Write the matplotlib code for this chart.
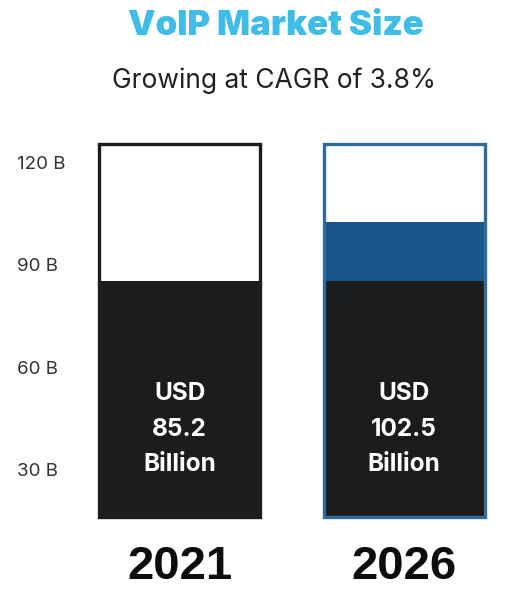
import matplotlib.pyplot as plt

plt.rcParams["font.family"] = ["Inter", "DejaVu Sans"]

# data
years = ["2021", "2026"]
market_size = [85.2, 102.5]  # USD billion
base_size = 85.2  # dark part shown in both bars
tick_values = [30, 60, 90, 120]
tick_labels = ["30 B", "60 B", "90 B", "120 B"]

title = "VoIP Market Size"
subtitle = "Growing at CAGR of 3.8%"

# visible value window of the "glasses"
y_lo, y_hi = 16, 125.5
bar_w = 0.717
dark = "#1c1c1c"
blue_fill = "#17558c"
blue_edge = "#2f6c9c"
edge_colors = [dark, blue_edge]

fig = plt.figure(figsize=(5.15, 5.94), dpi=100)
fig.patch.set_facecolor("white")
ax = fig.add_axes([99 / 515, 1 - 517 / 594, 386 / 515, 373 / 594])

x = list(range(len(years)))

# empty container
ax.bar(x, y_hi - y_lo, bottom=y_lo, width=bar_w, color="white", zorder=1)
# dark base
ax.bar(x, base_size, width=bar_w, color=dark, zorder=2)
# growth part on top of the base
growth = [v - base_size for v in market_size]
ax.bar(x, growth, bottom=base_size, width=bar_w, color=blue_fill, zorder=2)
# outline
for xi, ec in zip(x, edge_colors):
    ax.bar(xi, y_hi - y_lo, bottom=y_lo, width=bar_w, fill=False,
           edgecolor=ec, linewidth=2.4, zorder=3, clip_on=False)

for xi, v in zip(x, market_size):
    ax.text(xi, 41.8, f"USD\n{v}\nBillion", color="white", ha="center",
            va="center", fontsize=17.5, fontweight="bold", linespacing=1.68,
            zorder=4)
    ax.annotate(years[xi], xy=(xi, 0), xycoords=("data", "figure fraction"),
                xytext=(0, 15 * 0.72), textcoords="offset points",
                ha="center", va="baseline", fontsize=34, fontweight="bold",
                family="Liberation Sans", color="#0d0d0d")

ax.set_xlim(-0.36, 1.36)
ax.set_ylim(y_lo, y_hi)
ax.set_xticks([])
ax.set_yticks(tick_values, tick_labels)
ax.tick_params(axis="y", length=0, pad=59, labelsize=13.5, labelcolor="#333333")
for lab in ax.get_yticklabels():
    lab.set_horizontalalignment("left")
for s in ax.spines.values():
    s.set_visible(False)

fig.text(0.535, 0.941, title, ha="center", va="baseline", fontsize=25,
         fontweight="black", color="#3fbde6")
fig.text(0.532, 0.852, subtitle, ha="center", va="baseline", fontsize=19,
         color="#222222")

fig.savefig("out.png", dpi=100, facecolor="white")
